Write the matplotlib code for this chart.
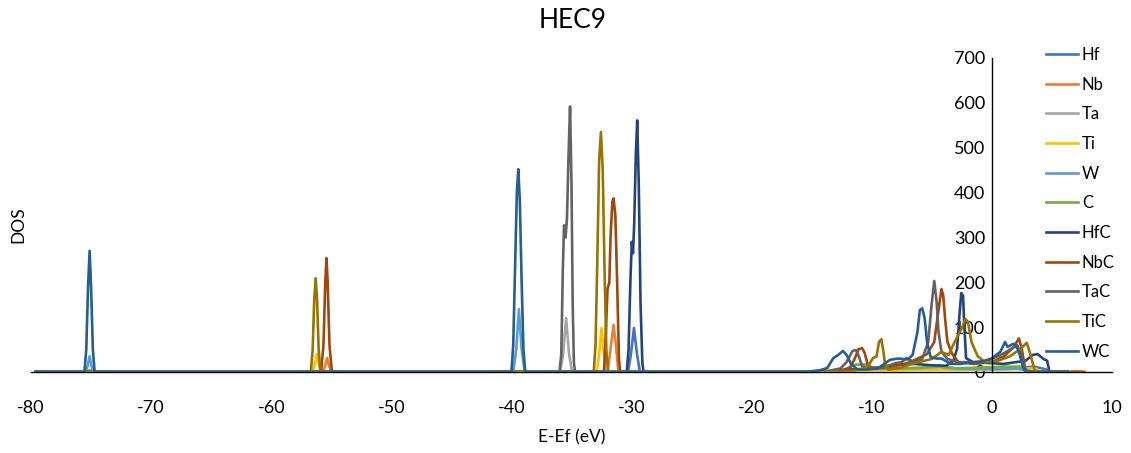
import matplotlib
matplotlib.use("Agg")
import matplotlib.pyplot as plt

plt.rcParams['font.family'] = ['Lato', 'DejaVu Sans']
plt.rcParams['axes.unicode_minus'] = False

# partial DOS, (energy eV, states) pairs
hf = [(-79.6, 0), (-30.3, 0), (-30.05, 40), (-29.8, 98), (-29.55, 40), (-29.3, 0),
      (-12.0, 0), (-8.0, 4), (-5.0, 8), (-3.0, 6), (0.0, 6), (2.0, 8), (3.5, 12),
      (4.5, 6), (4.9, 0), (6.3, 0)]
nb = [(-79.6, 0), (-55.7, 0), (-55.5, 15), (-55.35, 31), (-55.2, 15), (-55.0, 0),
      (-32.0, 0), (-31.8, 40), (-31.5, 105), (-31.3, 60), (-31.1, 0),
      (-12.5, 0), (-11.0, 5), (-9.0, 4), (-5.0, 8), (-4.0, 10), (-2.0, 6), (0.0, 8),
      (2.0, 10), (2.8, 8), (3.2, 0), (6.3, 0), (7.0, 2), (7.7, 0)]
ta = [(-79.6, 0), (-35.95, 0), (-35.7, 40), (-35.45, 120), (-35.2, 40), (-34.95, 0),
      (-12.0, 0), (-9.0, 4), (-5.0, 7), (-3.0, 6), (0.0, 6), (2.0, 8), (2.7, 5),
      (3.1, 0), (6.3, 0)]
ti = [(-79.6, 0), (-56.55, 0), (-56.35, 20), (-56.2, 40), (-56.05, 20), (-55.9, 0),
      (-32.9, 0), (-32.7, 40), (-32.5, 98), (-32.3, 40), (-32.1, 0),
      (-11.0, 0), (-9.0, 3), (-5.0, 5), (-3.0, 6), (0.0, 5), (2.0, 6), (3.0, 8),
      (3.6, 8), (4.2, 0), (6.3, 0)]
w = [(-79.6, 0), (-75.45, 0), (-75.3, 12), (-75.12, 35), (-74.95, 12), (-74.8, 0),
     (-39.85, 0), (-39.6, 50), (-39.38, 140), (-39.15, 50), (-38.9, 0),
     (-15.0, 0), (-12.0, 5), (-6.0, 9), (-4.5, 12), (-3.0, 8), (0.0, 6), (2.0, 8),
     (2.7, 5), (3.2, 0), (6.3, 0)]
c = [(-79.6, 0), (-75.4, 0), (-75.12, 4), (-74.85, 0),
     (-14.0, 0), (-12.2, 6), (-11.5, 16), (-10.5, 17), (-10.0, 10), (-8.0, 8),
     (-6.0, 9), (-4.5, 13), (-3.0, 8), (-1.0, 10), (1.0, 12), (2.5, 12), (3.0, 4),
     (3.5, 0), (6.3, 0)]
hfc = [(-79.6, 0), (-30.4, 0), (-30.25, 50), (-30.1, 200), (-29.98, 290), (-29.88, 265),
       (-29.78, 330), (-29.65, 480), (-29.53, 561), (-29.4, 420), (-29.25, 150),
       (-29.1, 20), (-29.0, 0),
       (-13.5, 0), (-12.0, 5), (-10.0, 8), (-8.0, 15), (-6.5, 18), (-5.0, 15),
       (-3.8, 14), (-3.2, 25), (-2.9, 52), (-2.7, 127), (-2.55, 176), (-2.4, 170),
       (-2.3, 105), (-2.15, 31), (-1.6, 22), (-0.2, 20), (1.0, 18), (2.0, 22),
       (2.8, 25), (3.4, 38), (3.8, 40), (4.3, 29), (4.6, 25), (4.8, 0), (6.3, 0)]
nbc = [(-79.6, 0), (-55.85, 0), (-55.65, 60), (-55.5, 200), (-55.4, 254), (-55.3, 200),
       (-55.15, 60), (-54.95, 0),
       (-32.3, 0), (-32.15, 80), (-32.0, 185), (-31.85, 200), (-31.75, 300),
       (-31.6, 380), (-31.5, 387), (-31.35, 350), (-31.2, 200), (-31.05, 30), (-30.95, 0),
       (-13.5, 0), (-12.5, 4), (-11.8, 9), (-11.4, 31), (-11.1, 51), (-10.8, 53),
       (-10.6, 43), (-10.3, 13), (-9.8, 8), (-9.0, 10), (-8.0, 14), (-7.0, 20),
       (-6.4, 27), (-5.4, 40), (-4.8, 67), (-4.5, 127), (-4.2, 185), (-4.05, 170),
       (-3.9, 120), (-3.7, 67), (-3.3, 40), (-2.8, 22), (-1.5, 18), (0.0, 22),
       (1.0, 35), (1.8, 55), (2.25, 75), (2.5, 50), (2.75, 10), (2.9, 0), (7.7, 0)]
tac = [(-79.6, 0), (-36.0, 0), (-35.85, 40), (-35.72, 230), (-35.62, 327), (-35.5, 300),
       (-35.38, 340), (-35.25, 480), (-35.12, 592), (-35.0, 420), (-34.9, 150),
       (-34.8, 20), (-34.7, 0),
       (-14.5, 0), (-13.5, 3), (-12.6, 8), (-12.1, 22), (-11.6, 47), (-11.3, 49),
       (-11.1, 36), (-10.8, 13), (-10.3, 8), (-9.5, 10), (-8.5, 15), (-8.0, 20),
       (-7.5, 22), (-7.1, 31), (-6.5, 22), (-5.8, 29), (-5.3, 67), (-5.0, 156),
       (-4.8, 203), (-4.6, 156), (-4.45, 91), (-4.2, 45), (-3.7, 29), (-2.8, 22),
       (-1.5, 22), (-0.5, 25), (0.5, 35), (1.2, 45), (1.8, 55), (2.1, 60), (2.4, 40),
       (2.7, 5), (2.9, 0), (6.3, 0)]
tic = [(-79.6, 0), (-56.7, 0), (-56.55, 50), (-56.42, 160), (-56.3, 209), (-56.18, 160),
       (-56.05, 50), (-55.9, 0),
       (-33.15, 0), (-33.0, 60), (-32.85, 250), (-32.7, 470), (-32.55, 535),
       (-32.4, 450), (-32.25, 230), (-32.1, 50), (-31.95, 0),
       (-12.5, 0), (-11.5, 3), (-10.4, 9), (-9.9, 31), (-9.6, 35), (-9.4, 67),
       (-9.2, 73), (-9.05, 49), (-8.9, 18), (-8.6, 5), (-7.5, 10), (-6.7, 18),
       (-5.0, 29), (-4.2, 45), (-3.6, 38), (-3.1, 67), (-2.5, 98), (-2.2, 118),
       (-2.0, 112), (-1.7, 67), (-1.2, 36), (-0.6, 22), (0.5, 25), (1.5, 35),
       (2.3, 50), (2.9, 65), (3.2, 40), (3.6, 0), (6.3, 0)]
wc = [(-79.6, 0), (-75.55, 0), (-75.4, 50), (-75.25, 190), (-75.12, 270), (-75.0, 190),
      (-74.85, 50), (-74.7, 0),
      (-40.0, 0), (-39.85, 60), (-39.7, 230), (-39.55, 400), (-39.43, 452),
      (-39.3, 380), (-39.15, 200), (-39.0, 50), (-38.85, 0),
      (-15.5, 0), (-14.9, 2), (-14.3, 4), (-13.7, 9), (-13.2, 31), (-12.8, 38),
      (-12.4, 47), (-12.1, 38), (-11.7, 17), (-11.2, 6), (-10.6, 5), (-9.5, 8),
      (-9.0, 17), (-8.5, 27), (-7.8, 30), (-7.0, 28), (-6.6, 38), (-6.2, 89),
      (-6.0, 138), (-5.8, 142), (-5.6, 120), (-5.4, 67), (-5.1, 33), (-4.6, 30),
      (-4.2, 30), (-3.4, 18), (-2.6, 18), (-1.7, 22), (-1.0, 22), (0.0, 30),
      (0.7, 45), (1.1, 67), (1.3, 56), (1.8, 63), (2.2, 50), (2.5, 20), (2.7, 4),
      (3.0, 0), (6.3, 0)]

labels = ['Hf', 'Nb', 'Ta', 'Ti', 'W', 'C', 'HfC', 'NbC', 'TaC', 'TiC', 'WC']
series = [hf, nb, ta, ti, w, c, hfc, nbc, tac, tic, wc]
colors = ['#4472C4', '#ED7D31', '#A5A5A5', '#FFC000', '#5B9BD5', '#70AD47',
          '#264478', '#9E480E', '#636363', '#997300', '#255E91']

x_ticks = list(range(-80, 11, 10))
y_ticks = list(range(0, 701, 100))

fig = plt.figure(figsize=(11.31, 4.53), dpi=100)
ax = fig.add_axes([31 / 1131, 1 - 372 / 453, 1081 / 1131, 314 / 453])

for lab, pts, col in zip(labels, series, colors):
    e = [p[0] for p in pts]
    d = [p[1] for p in pts]
    ax.plot(e, d, color=col, lw=1.9, label=lab, solid_joinstyle='round')

ax.set_xlim(-80, 10)
ax.set_ylim(0, 700)
ax.set_xticks(x_ticks)
ax.set_yticks(y_ticks)

ax.spines['top'].set_visible(False)
ax.spines['right'].set_visible(False)
ax.spines['left'].set_position(('data', 0))
ax.spines['left'].set_linewidth(1.0)
ax.spines['bottom'].set_linewidth(1.0)
ax.spines['bottom'].set_zorder(0)
ax.tick_params(axis='x', length=0, pad=20, labelsize=13)
ax.tick_params(axis='y', length=0, pad=5, labelsize=13)

ax.set_xlabel('E-Ef (eV)', fontsize=12.5, labelpad=10)
fig.text(18 / 1131, 1 - 225 / 453, 'DOS', rotation=90, fontsize=12.5,
         ha='center', va='center')
fig.text(573 / 1131, 1 - 21 / 453, 'HEC9', fontsize=19, ha='center', va='center')

fig.legend(loc='upper left', bbox_to_anchor=(1046 / 1131, 1 - 47 / 453),
           frameon=False, fontsize=12, handlelength=1.9, handletextpad=0.25,
           labelspacing=0.82, borderpad=0, borderaxespad=0)

fig.savefig('out.png', dpi=100)
